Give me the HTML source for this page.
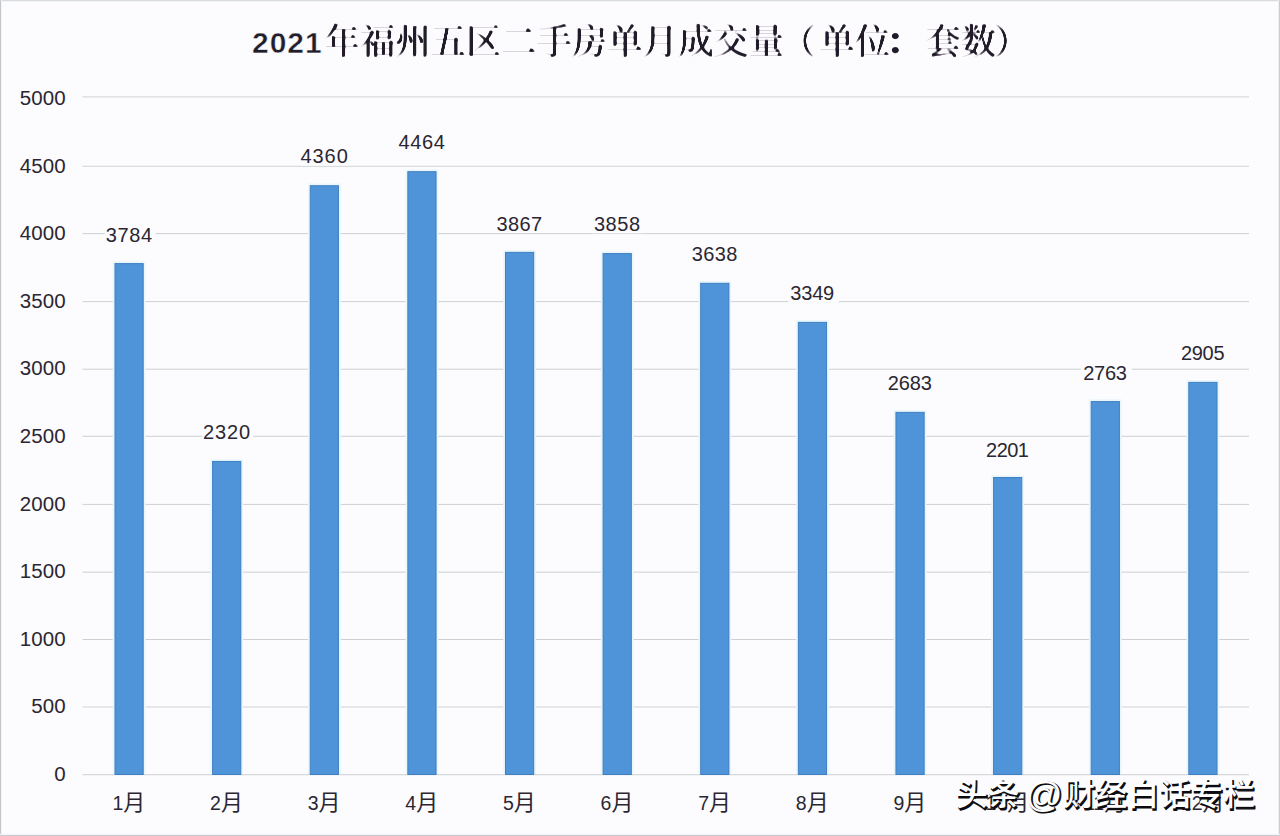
<!DOCTYPE html>
<html lang="zh-CN"><head><meta charset="utf-8"><title>2021年福州五区二手房单月成交量</title>
<style>
html,body{margin:0;padding:0;background:#fcfcfe;}
body{width:1280px;height:836px;overflow:hidden;position:relative;font-family:"Liberation Sans","Noto Sans CJK SC",sans-serif;}
svg{position:absolute;left:0;top:0;display:block}
.t{font-family:"Liberation Sans","Noto Sans CJK SC",sans-serif;fill:#2b2631}
.yl{font-size:20.5px;text-anchor:end;letter-spacing:0.1px}
.xl{font-size:22px;text-anchor:middle}
.dl{font-size:20px;text-anchor:middle}
.ttl{font-family:"Liberation Sans","Noto Serif CJK SC",serif;fill:#221d2b}
.wm{font-family:"Liberation Sans","Noto Sans CJK SC",sans-serif;font-size:31.5px;font-weight:500;letter-spacing:0.5px}
</style></head><body>
<svg width="1280" height="836" viewBox="0 0 1280 836">
<rect x="0" y="0" width="1280" height="836" fill="#fcfcfe"/>

<rect x="0" y="0" width="1280" height="1" fill="#d8dbde"/>
<rect x="0" y="1" width="1280" height="1" fill="#f3f4f6"/>
<rect x="0" y="0" width="1" height="836" fill="#c4c7cb"/>
<rect x="1" y="0" width="1" height="836" fill="#f1f2f4"/>
<rect x="1279" y="0" width="1" height="836" fill="#cdcbd0"/>
<rect x="1278" y="0" width="1" height="836" fill="#f0eff2"/>
<rect x="0" y="835" width="1280" height="1" fill="#c9cdd0"/>
<rect x="0" y="834" width="1280" height="1" fill="#eff1f3"/>
<text class="ttl" x="252" y="52.7" font-size="30" font-weight="700" letter-spacing="1.0" stroke="#fcfcfe" stroke-width="0.45">2021</text>
<defs><filter id="hb" x="-2%" y="-10%" width="104%" height="120%"><feGaussianBlur in="SourceGraphic" stdDeviation="0 1.15"/><feComponentTransfer><feFuncA type="linear" slope="2.4" intercept="-0.85"/></feComponentTransfer><feOffset dx="-0.5" result="v"/><feOffset in="v" dx="1" result="v2"/><feComponentTransfer in="SourceGraphic" result="h"><feFuncA type="linear" slope="0.16"/></feComponentTransfer><feMerge><feMergeNode in="h"/><feMergeNode in="v"/><feMergeNode in="v2"/></feMerge></filter></defs>
<text class="ttl" filter="url(#hb)" x="324.3" y="53.5" font-size="35" font-weight="400" letter-spacing="0.36">年福州五区二手房单月成交量<tspan dx="-3.5" font-weight="200">（</tspan><tspan dx="3.5">单位</tspan><tspan dx="-4.5" font-weight="700">：</tspan><tspan dx="4.5">套数</tspan><tspan dx="-2.5" font-weight="200">）</tspan></text>
<rect x="82.5" y="96.40" width="1166.5" height="1" fill="#cdd1d4"/>
<rect x="82.5" y="165.75" width="1166.5" height="1" fill="#cdd1d4"/>
<rect x="82.5" y="233.10" width="1166.5" height="1" fill="#cdd1d4"/>
<rect x="82.5" y="301.10" width="1166.5" height="1" fill="#cdd1d4"/>
<rect x="82.5" y="368.70" width="1166.5" height="1" fill="#cdd1d4"/>
<rect x="82.5" y="435.80" width="1166.5" height="1" fill="#cdd1d4"/>
<rect x="82.5" y="503.90" width="1166.5" height="1" fill="#cdd1d4"/>
<rect x="82.5" y="571.65" width="1166.5" height="1" fill="#cdd1d4"/>
<rect x="82.5" y="639.00" width="1166.5" height="1" fill="#cdd1d4"/>
<rect x="82.5" y="706.50" width="1166.5" height="1" fill="#cdd1d4"/>
<rect x="82.5" y="774.20" width="1166.5" height="1" fill="#cdd1d4"/>
<text class="t yl" x="65.7" y="104.90">5000</text>
<text class="t yl" x="65.7" y="172.50">4500</text>
<text class="t yl" x="65.7" y="240.10">4000</text>
<text class="t yl" x="65.7" y="307.70">3500</text>
<text class="t yl" x="65.7" y="375.30">3000</text>
<text class="t yl" x="65.7" y="442.90">2500</text>
<text class="t yl" x="65.7" y="510.50">2000</text>
<text class="t yl" x="65.7" y="578.10">1500</text>
<text class="t yl" x="65.7" y="645.70">1000</text>
<text class="t yl" x="65.7" y="713.30">500</text>
<text class="t yl" x="65.7" y="780.90">0</text>
<rect x="104.60" y="223.09" width="51" height="20.2" fill="#fcfcfe"/>
<rect x="112.70" y="261.29" width="32.80" height="512.61" fill="#eaf6fc"/>
<rect x="115.00" y="263.59" width="28.20" height="510.91" fill="#4f94d9" stroke="#3f7fc1" stroke-width="1"/>
<text class="t dl" x="129.20" y="242.39" letter-spacing="0.60">3784</text>
<text class="t xl" x="128.90" y="810"><tspan font-size="19.5">1</tspan>月</text>
<rect x="202.22" y="420.95" width="51" height="20.2" fill="#fcfcfe"/>
<rect x="210.32" y="459.15" width="32.80" height="314.75" fill="#eaf6fc"/>
<rect x="212.62" y="461.45" width="28.20" height="313.05" fill="#4f94d9" stroke="#3f7fc1" stroke-width="1"/>
<text class="t dl" x="226.95" y="439.05" letter-spacing="0.87">2320</text>
<text class="t xl" x="226.52" y="810"><tspan font-size="19.5">2</tspan>月</text>
<rect x="299.84" y="145.25" width="51" height="20.2" fill="#fcfcfe"/>
<rect x="307.94" y="183.45" width="32.80" height="590.45" fill="#eaf6fc"/>
<rect x="310.24" y="185.75" width="28.20" height="588.75" fill="#4f94d9" stroke="#3f7fc1" stroke-width="1"/>
<text class="t dl" x="324.60" y="162.65" letter-spacing="0.92">4360</text>
<text class="t xl" x="324.14" y="810"><tspan font-size="19.5">3</tspan>月</text>
<rect x="397.46" y="131.19" width="51" height="20.2" fill="#fcfcfe"/>
<rect x="405.56" y="169.39" width="32.80" height="604.51" fill="#eaf6fc"/>
<rect x="407.86" y="171.69" width="28.20" height="602.81" fill="#4f94d9" stroke="#3f7fc1" stroke-width="1"/>
<text class="t dl" x="422.09" y="148.99" letter-spacing="0.67">4464</text>
<text class="t xl" x="421.76" y="810"><tspan font-size="19.5">4</tspan>月</text>
<rect x="495.08" y="211.87" width="51" height="20.2" fill="#fcfcfe"/>
<rect x="503.18" y="250.07" width="32.80" height="523.83" fill="#eaf6fc"/>
<rect x="505.48" y="252.37" width="28.20" height="522.13" fill="#4f94d9" stroke="#3f7fc1" stroke-width="1"/>
<text class="t dl" x="519.59" y="230.77" letter-spacing="0.42">3867</text>
<text class="t xl" x="519.38" y="810"><tspan font-size="19.5">5</tspan>月</text>
<rect x="592.70" y="213.09" width="51" height="20.2" fill="#fcfcfe"/>
<rect x="600.80" y="251.29" width="32.80" height="522.61" fill="#eaf6fc"/>
<rect x="603.10" y="253.59" width="28.20" height="520.91" fill="#4f94d9" stroke="#3f7fc1" stroke-width="1"/>
<text class="t dl" x="617.29" y="230.59" letter-spacing="0.58">3858</text>
<text class="t xl" x="617.00" y="810"><tspan font-size="19.5">6</tspan>月</text>
<rect x="690.32" y="242.82" width="51" height="20.2" fill="#fcfcfe"/>
<rect x="698.42" y="281.02" width="32.80" height="492.88" fill="#eaf6fc"/>
<rect x="700.72" y="283.32" width="28.20" height="491.18" fill="#4f94d9" stroke="#3f7fc1" stroke-width="1"/>
<text class="t dl" x="714.83" y="260.72" letter-spacing="0.42">3638</text>
<text class="t xl" x="714.62" y="810"><tspan font-size="19.5">7</tspan>月</text>
<rect x="787.94" y="281.88" width="51" height="20.2" fill="#fcfcfe"/>
<rect x="796.04" y="320.08" width="32.80" height="453.82" fill="#eaf6fc"/>
<rect x="798.34" y="322.38" width="28.20" height="452.12" fill="#4f94d9" stroke="#3f7fc1" stroke-width="1"/>
<text class="t dl" x="812.16" y="300.28" letter-spacing="-0.17">3349</text>
<text class="t xl" x="812.24" y="810"><tspan font-size="19.5">8</tspan>月</text>
<rect x="885.56" y="371.89" width="51" height="20.2" fill="#fcfcfe"/>
<rect x="893.66" y="410.09" width="32.80" height="363.81" fill="#eaf6fc"/>
<rect x="895.96" y="412.39" width="28.20" height="362.11" fill="#4f94d9" stroke="#3f7fc1" stroke-width="1"/>
<text class="t dl" x="909.78" y="390.29" letter-spacing="-0.17">2683</text>
<text class="t xl" x="909.86" y="810"><tspan font-size="19.5">9</tspan>月</text>
<rect x="983.18" y="437.03" width="51" height="20.2" fill="#fcfcfe"/>
<rect x="991.28" y="475.23" width="32.80" height="298.67" fill="#eaf6fc"/>
<rect x="993.58" y="477.53" width="28.20" height="296.97" fill="#4f94d9" stroke="#3f7fc1" stroke-width="1"/>
<text class="t dl" x="1007.20" y="456.83" letter-spacing="-0.57">2201</text>
<text class="t xl" x="1007.48" y="810"><tspan font-size="19.5">10</tspan>月</text>
<rect x="1080.80" y="361.08" width="51" height="20.2" fill="#fcfcfe"/>
<rect x="1088.90" y="399.28" width="32.80" height="374.62" fill="#eaf6fc"/>
<rect x="1091.20" y="401.58" width="28.20" height="372.92" fill="#4f94d9" stroke="#3f7fc1" stroke-width="1"/>
<text class="t dl" x="1104.93" y="379.68" letter-spacing="-0.33">2763</text>
<text class="t xl" x="1105.10" y="810"><tspan font-size="19.5">11</tspan>月</text>
<rect x="1178.42" y="341.89" width="51" height="20.2" fill="#fcfcfe"/>
<rect x="1186.52" y="380.09" width="32.80" height="393.81" fill="#eaf6fc"/>
<rect x="1188.82" y="382.39" width="28.20" height="392.11" fill="#4f94d9" stroke="#3f7fc1" stroke-width="1"/>
<text class="t dl" x="1202.57" y="360.39" letter-spacing="-0.30">2905</text>
<text class="t xl" x="1202.72" y="810"><tspan font-size="19.5">12</tspan>月</text>
<g transform="translate(0,807) scale(1,0.96)">
<text class="wm" x="957.2" y="0" fill="#0c0c10" stroke="#0c0c10" stroke-width="1.3" stroke-linejoin="round">头条<tspan dx="5.5" dy="1.3" font-size="36.5">@</tspan><tspan dx="0.6" dy="-1.3">财经白话专栏</tspan></text>
<text class="wm" x="956" y="-1.65" fill="#fff">头条<tspan dx="5.5" dy="1.3" font-size="36.5">@</tspan><tspan dx="0.6" dy="-1.3">财经白话专栏</tspan></text>
</g>
</svg></body></html>
